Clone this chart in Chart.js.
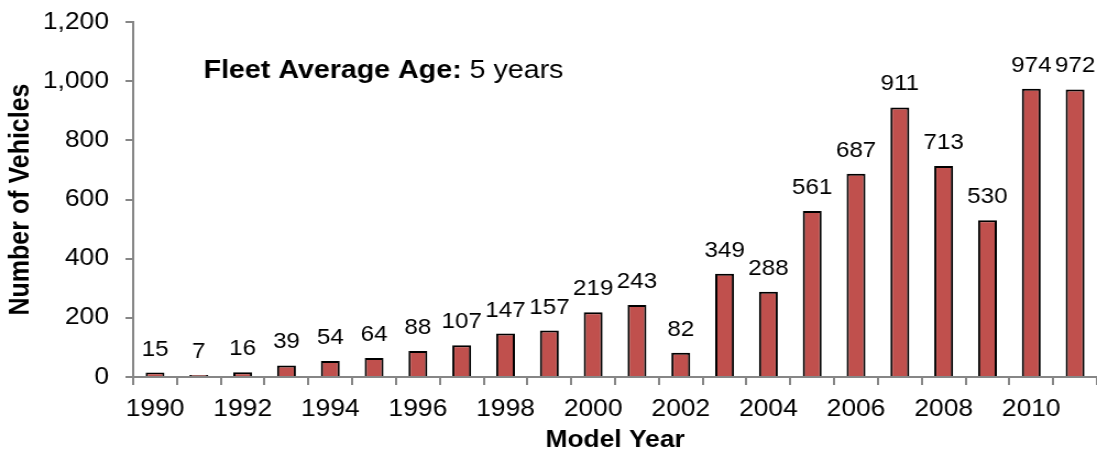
<!DOCTYPE html>
<html>
<head>
<meta charset="utf-8">
<script src="https://cdn.jsdelivr.net/npm/chart.js@4.4.1/dist/chart.umd.min.js"></script>
<style>
  html, body { margin: 0; padding: 0; background: #fff; overflow: hidden; }
  /* the chart is laid out narrower and widened a little, giving the wide lettering */
  #wrap { width: 997px; height: 455px; transform: scaleX(1.1003); transform-origin: 0 0; }
</style>
</head>
<body>
<div id="wrap"><canvas id="barCanvas"></canvas></div>
<script>
const years = [1990, 1991, 1992, 1993, 1994, 1995, 1996, 1997, 1998, 1999, 2000,
               2001, 2002, 2003, 2004, 2005, 2006, 2007, 2008, 2009, 2010, 2011];
const vehicles = [15, 7, 16, 39, 54, 64, 88, 107, 147, 157, 219,
                  243, 82, 349, 288, 561, 687, 911, 713, 530, 974, 972];
const yTicks = [0, 200, 400, 600, 800, 1000, 1200];
const noteBold = "Fleet Average Age:";
const noteText = " 5 years";

const fontName = "'Liberation Sans', Arial, sans-serif";
const axisGray = '#868686';

// numbers above each bar
const valueLabels = {
    id: 'valueLabels',
    afterDatasetsDraw(chart) {
        const ctx = chart.ctx;
        const meta = chart.getDatasetMeta(0);
        ctx.save();
        ctx.fillStyle = '#000';
        ctx.font = '22px ' + fontName;
        ctx.textAlign = 'center';
        ctx.textBaseline = 'alphabetic';
        meta.data.forEach((bar, i) => {
            ctx.fillText(vehicles[i], bar.x, bar.y - 17);
        });
        ctx.restore();
    }
};

// "Fleet Average Age" note in the upper left
const ageNote = {
    id: 'ageNote',
    afterDraw(chart) {
        const ctx = chart.ctx;
        ctx.save();
        ctx.fillStyle = '#000';
        ctx.textBaseline = 'alphabetic';
        ctx.textAlign = 'left';
        ctx.font = 'bold 26px ' + fontName;
        let x = 185;
        ctx.fillText(noteBold, x, 78);
        x += ctx.measureText(noteBold).width;
        ctx.font = '26px ' + fontName;
        ctx.fillText(noteText, x, 78);
        ctx.restore();
    }
};

const barCanvas = document.getElementById('barCanvas');
const barChart = new Chart(barCanvas, {
    type: 'bar',
    data: {
        labels: years,
        datasets: [{
            data: vehicles,
            backgroundColor: '#C0504D',
            borderColor: '#000',
            borderWidth: 2,
            barPercentage: 0.43,
            categoryPercentage: 1
        }]
    },
    options: {
        responsive: true,
        maintainAspectRatio: false,
        animation: false,
        layout: { padding: { top: 22, right: 0, left: 0, bottom: 0 } },
        plugins: {
            legend: { display: false },
            tooltip: { enabled: false }
        },
        scales: {
            x: {
                offset: true,
                grid: {
                    display: true,
                    offset: true,
                    drawOnChartArea: false,
                    drawTicks: true,
                    tickLength: 8,
                    color: axisGray,
                    lineWidth: 2
                },
                border: { color: axisGray, width: 2 },
                ticks: {
                    autoSkip: false,
                    maxRotation: 0,
                    color: '#000',
                    font: { size: 24, family: fontName },
                    padding: 10,
                    callback: function(value, index) {
                        return index % 2 === 0 ? years[index] : '';
                    }
                },
                title: {
                    display: true,
                    text: 'Model Year',
                    color: '#000',
                    font: { size: 24, weight: 'bold', family: fontName },
                    padding: { top: 0, bottom: 0 }
                },
                afterFit: function(scale) { scale.height = 78; }
            },
            y: {
                min: 0,
                max: 1200,
                afterBuildTicks: function(scale) {
                    scale.ticks = yTicks.map(v => ({ value: v }));
                },
                grid: {
                    display: true,
                    drawOnChartArea: false,
                    drawTicks: true,
                    tickLength: 7,
                    color: axisGray,
                    lineWidth: 2
                },
                border: { color: axisGray, width: 2 },
                ticks: {
                    color: '#000',
                    font: { size: 24, family: fontName },
                    padding: 15,
                    callback: function(value) { return value.toLocaleString('en-US'); }
                },
                title: {
                    display: true,
                    text: 'Number of Vehicles',
                    color: '#000',
                    font: { size: 25, weight: 'bold', family: fontName },
                    padding: { top: 4, bottom: 4 }
                },
                afterFit: function(scale) {
                    // fixed axis width; the label padding should not push the top down
                    scale.width = 121;
                    scale.paddingTop = 0;
                    scale.paddingBottom = 0;
                }
            }
        }
    },
    plugins: [valueLabels, ageNote]
});
</script>
</body>
</html>
